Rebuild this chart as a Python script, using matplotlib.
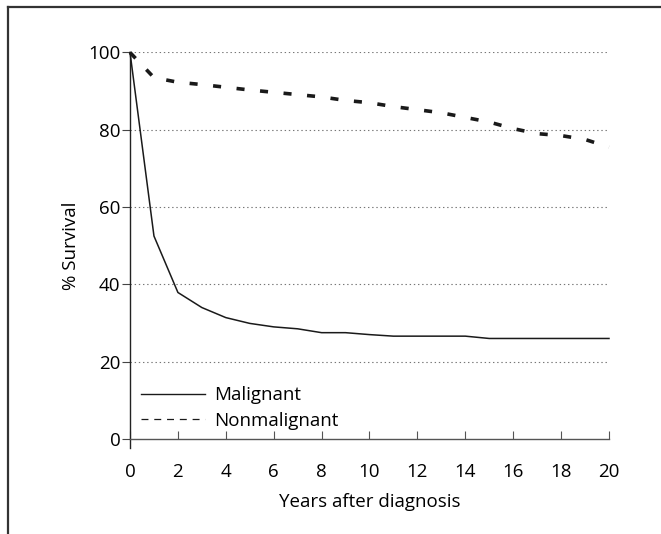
""" Survival curves, malignant vs nonmalignant """

import matplotlib
matplotlib.use("Agg")
import matplotlib.pyplot as plt
from matplotlib.lines import Line2D

years        = list(range(0, 21))
malignant    = [100, 52.5, 37.9, 34.0, 31.4, 29.9, 29.0, 28.5, 27.5, 27.5, 27.0,
                26.6, 26.6, 26.6, 26.6, 26.0, 26.0, 26.0, 26.0, 26.0, 26.0]
nonmalignant = [100, 93.5, 92.3, 91.7, 91.0, 90.3, 89.7, 89.1, 88.5, 87.6, 87.0,
                86.0, 85.2, 84.4, 83.2, 82.0, 80.3, 79.0, 78.5, 77.5, 75.5]
y_ticks      = [0, 20, 40, 60, 80, 100]
x_ticks      = list(range(0, 21, 2))

FS = 13.5
plt.rcParams['font.family'] = ['Open Sans', 'DejaVu Sans']
plt.rcParams['lines.scale_dashes'] = False

fig = plt.figure(figsize=(6.61, 5.34), dpi=100)
ax  = fig.add_axes([0.1967, 0.178, 0.7246, 0.7237])

# outer frame (open on right and bottom)
fig.add_artist(Line2D([0.0115, 0.0115], [0, 0.987], color='#333333', lw=1.6,
                      transform=fig.transFigure))
fig.add_artist(Line2D([0.0115, 1.0], [0.987, 0.987], color='#333333', lw=1.6,
                      transform=fig.transFigure))

# grid lines
for yv in y_ticks[1:]:
    ax.plot([0, 20], [yv, yv], color='#777777', lw=0.8, ls=(0, (1, 2)), zorder=1)

ax.plot(years, malignant, color='#1a1a1a', lw=1.1, clip_on=False, zorder=3)
ax.plot(years, nonmalignant, color='#1a1a1a', lw=2.6, clip_on=False, zorder=3,
        dashes=(5.8, 11.2), dash_capstyle='butt')

ax.set_xlim(0, 20)
ax.set_ylim(0, 100)
ax.set_xticks(x_ticks)
ax.set_yticks(y_ticks)
for s in ['top', 'right']:
    ax.spines[s].set_visible(False)
ax.spines['left'].set_color('#222222')
ax.spines['bottom'].set_color('#555555')
ax.spines['left'].set_linewidth(1.0)
ax.spines['bottom'].set_linewidth(1.0)
ax.spines['left'].set_bounds(-2.3, 100)
ax.tick_params(axis='y', direction='out', length=6, width=0.8,
               labelsize=FS, pad=1, color='#444444')
ax.tick_params(axis='x', direction='in', length=6, width=0.8,
               labelsize=FS, pad=17, color='#555555')
ax.set_ylabel('% Survival', fontsize=FS, labelpad=6)
ax.set_xlabel('Years after diagnosis', fontsize=FS, labelpad=9)

handles = [Line2D([], [], color='#1a1a1a', lw=1.0),
           Line2D([], [], color='#1a1a1a', lw=0.9, dashes=(5, 4.2))]
ax.legend(handles, ['Malignant', 'Nonmalignant'], loc='lower left',
          bbox_to_anchor=(0.0, -0.005), frameon=False, fontsize=FS,
          handlelength=3.4, handletextpad=0.5, labelspacing=0.4,
          borderaxespad=0.2)

fig.savefig('out.png', dpi=100)
